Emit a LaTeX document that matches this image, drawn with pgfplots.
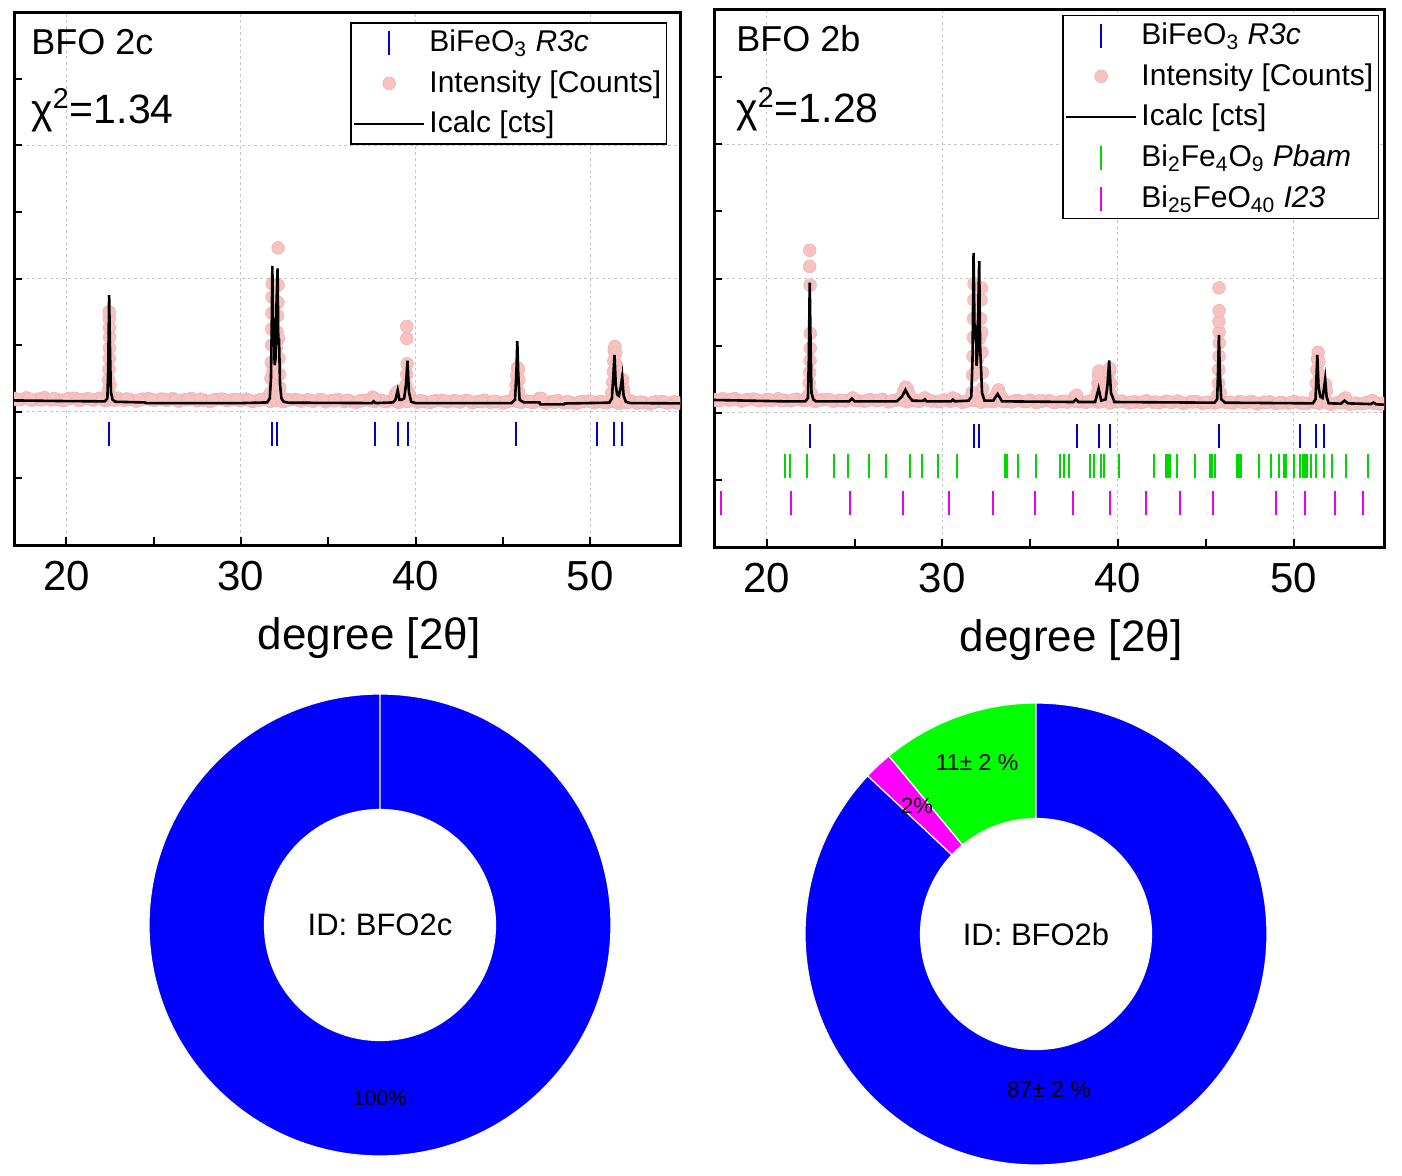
\documentclass[border=0pt]{standalone}
\usepackage{fontspec}
\setmainfont{Liberation Sans}
\usepackage{pgfplots}
\pgfplotsset{compat=1.18}
\usetikzlibrary{calc}
\definecolor{obsfill}{RGB}{247,194,194}
\definecolor{obsdraw}{RGB}{243,180,180}
\definecolor{tblue}{RGB}{0,0,215}
\definecolor{tgreen}{RGB}{0,215,0}
\definecolor{tmag}{RGB}{235,0,235}
\definecolor{pblue}{RGB}{0,0,255}
\definecolor{pgreen}{RGB}{0,255,0}
\definecolor{pmag}{RGB}{255,0,255}
\pgfplotsset{
 xrd/.style={scale only axis, anchor=south west,
  xmin=17, xmax=55.15, ymin=0, ymax=4,
  xtick={20,30,40,50}, minor xtick={25,35,45},
  ytick={1,2,3}, minor ytick={0.5,1.5,2.5,3.5}, yticklabel=\empty,
  tick pos=left, tick align=inside, major tick length=4pt, minor tick length=4pt,
  tick style={black, line width=1pt},
  axis line style={line width=1.5pt},
  clip marker paths=true,
  grid=major, major grid style={gray!45, line width=0.5pt, dash pattern=on 1.5pt off 1.5pt},
  /pgf/number format/assume math mode=true,
  xticklabel style={font=\fontsize{21}{24}\selectfont, yshift=-4.5pt},
  xlabel={degree [2θ]}, xlabel style={font=\fontsize{22}{26}\selectfont, xshift=11pt, yshift=-6.5pt},
  legend cell align=left,
  legend style={at={(1,1)}, anchor=north east, draw=black, line width=0.75pt,
   inner xsep=1pt, inner ysep=2pt, font=\fontsize{15}{18}\selectfont,
   nodes={inner sep=1.5pt, text depth=0.2em}, row sep=4.5pt, /tikz/column sep=0.5pt},
 },
 ticks/.style={only marks, mark=|, mark size=6pt, mark options={line width=1pt},
  legend image code/.code={\draw[##1, mark repeat=2, mark phase=2] plot[only marks] coordinates {(0pt,0pt)(17.5pt,0pt)(35pt,0pt)};}},
 obs/.style={only marks, mark=*, mark size=3.2pt, color=obsdraw,
  mark options={draw=obsdraw, fill=obsfill, line width=0.3pt},
  legend image code/.code={\draw[##1, mark repeat=2, mark phase=2] plot[only marks] coordinates {(0pt,0pt)(17.5pt,0pt)(35pt,0pt)};}},
 calc/.style={black, line width=1.3pt, no marks,
  legend image code/.code={\draw[##1] (0pt,0pt) -- (35pt,0pt);}},
}
\newcommand{\Ro}{115.5pt}
\newcommand{\Ri}{57.75pt}
\newcommand{\donutseg}[3]{%
 \filldraw[fill=#1, draw=white, line width=0.6pt]
  ($(axis cs:0,0)+(#2:\Ro)$) arc[start angle=#2, end angle=#3, radius=\Ro]
  -- ($(axis cs:0,0)+(#3:\Ri)$) arc[start angle=#3, end angle=#2, radius=\Ri] -- cycle;}
\begin{document}
\begin{tikzpicture}
\useasboundingbox (0,0) rectangle (701pt,587.5pt);
% ---------------- left XRD ----------------
\begin{axis}[xrd, at={(7pt,315pt)}, width=333pt, height=266.5pt,
 legend style={xshift=-6.5pt, yshift=-5pt}]
\addplot[ticks, tblue] coordinates {(22.44,0.835)(31.76,0.835)(32.07,0.835)(37.66,0.835)(38.98,0.835)(39.55,0.835)(45.75,0.835)(50.37,0.835)(51.35,0.835)(51.80,0.835)};
\addlegendentry{BiFeO\textsubscript{3} \textit{R3c}}
\addplot[obs] coordinates {
(17.00,1.101)(17.35,1.091)(17.70,1.104)(18.05,1.086)(18.40,1.096)(18.75,1.105)(19.10,1.088)(19.45,1.093)(19.80,1.083)(20.15,1.098)
(20.50,1.101)(20.85,1.089)(21.20,1.098)(21.55,1.088)(21.90,1.101)(22.25,1.083)(22.60,1.093)(22.95,1.102)(23.30,1.085)(23.65,1.090)
(24.00,1.080)(24.35,1.095)(24.70,1.098)(25.05,1.086)(25.40,1.095)(25.75,1.085)(26.10,1.098)(26.45,1.080)(26.80,1.090)(27.15,1.099)
(27.50,1.082)(27.85,1.087)(28.20,1.077)(28.55,1.092)(28.90,1.095)(29.25,1.083)(29.60,1.092)(29.95,1.082)(30.30,1.095)(30.65,1.077)
(31.00,1.087)(31.35,1.096)(31.70,1.079)(32.05,1.085)(32.40,1.075)(32.75,1.089)(33.10,1.092)(33.45,1.080)(33.80,1.089)(34.15,1.079)
(34.50,1.092)(34.85,1.074)(35.20,1.084)(35.55,1.093)(35.90,1.076)(36.25,1.081)(36.60,1.071)(36.95,1.086)(37.30,1.089)(37.65,1.077)
(38.00,1.086)(38.35,1.076)(38.70,1.089)(39.05,1.071)(39.40,1.081)(39.75,1.090)(40.10,1.073)(40.45,1.078)(40.80,1.068)(41.15,1.083)
(41.50,1.086)(41.85,1.074)(42.20,1.083)(42.55,1.073)(42.90,1.086)(43.25,1.068)(43.60,1.078)(43.95,1.087)(44.30,1.070)(44.65,1.075)
(45.00,1.065)(45.35,1.080)(45.70,1.083)(46.05,1.071)(46.40,1.080)(46.75,1.070)(47.10,1.083)(47.45,1.065)(47.80,1.075)(48.15,1.084)
(48.50,1.067)(48.85,1.072)(49.20,1.062)(49.55,1.077)(49.90,1.080)(50.25,1.068)(50.60,1.077)(50.95,1.067)(51.30,1.080)(51.65,1.062)
(52.00,1.072)(52.35,1.081)(52.70,1.064)(53.05,1.069)(53.40,1.059)(53.75,1.074)(54.10,1.077)(54.45,1.065)(54.80,1.074)(55.15,1.064)
(17.18,1.090)(17.88,1.096)(18.58,1.088)(19.28,1.099)(19.98,1.091)(20.68,1.086)(21.38,1.094)(22.08,1.090)(22.78,1.087)(23.48,1.096)
(24.18,1.088)(24.88,1.091)(25.58,1.094)(26.28,1.087)(26.98,1.092)(27.68,1.095)(28.38,1.085)(29.08,1.089)(29.78,1.091)(30.48,1.086)
(31.18,1.090)(32.58,1.083)(33.28,1.087)(33.98,1.084)(34.68,1.088)(35.38,1.082)(36.08,1.087)(36.78,1.080)(37.48,1.084)(38.18,1.080)
(38.88,1.082)(39.58,1.079)(40.28,1.083)(40.98,1.077)(41.68,1.080)(42.38,1.078)(43.08,1.081)(43.78,1.075)(44.48,1.079)(45.18,1.074)
(45.88,1.077)(46.58,1.075)(47.28,1.078)(47.98,1.072)(48.68,1.076)(49.38,1.071)(50.08,1.074)(50.78,1.072)(51.48,1.075)(52.18,1.070)
(52.88,1.073)(53.58,1.068)(54.28,1.072)(54.98,1.069)
(22.36,1.12)(22.40,1.16)(22.42,1.24)(22.44,1.32)(22.46,1.40)(22.47,1.48)(22.48,1.56)(22.47,1.63)(22.46,1.70)(22.45,1.75)(22.50,1.20)(22.52,1.12)
(31.70,1.14)(31.72,1.25)(31.74,1.37)(31.76,1.50)(31.77,1.62)(31.78,1.74)(31.79,1.86)(31.80,1.96)(31.84,1.30)(31.90,1.22)(31.97,1.35)
(32.02,1.48)(32.06,1.60)(32.10,1.72)(32.12,1.82)(32.13,1.95)(32.13,2.23)(32.16,1.55)(32.18,1.40)(32.20,1.28)(32.22,1.18)(32.26,1.12)
(37.55,1.11)(37.65,1.10)(38.85,1.13)(38.95,1.15)
(39.40,1.12)(39.45,1.20)(39.50,1.28)(39.52,1.36)(39.50,1.55)(39.50,1.64)(39.58,1.15)
(45.72,1.13)(45.76,1.20)(45.80,1.27)(45.84,1.33)(45.90,1.32)(45.92,1.24)(45.90,1.15)
(47.10,1.10)(47.20,1.10)
(51.25,1.14)(51.30,1.22)(51.33,1.30)(51.36,1.38)(51.38,1.46)(51.42,1.49)(51.47,1.44)(51.50,1.35)(51.52,1.26)(51.55,1.18)
(51.78,1.15)(51.82,1.22)(51.86,1.24)(51.90,1.17)(51.95,1.12)
};
\addlegendentry{Intensity [Counts]}
\addplot[calc] coordinates {
(17.0,1.085)(20.0,1.080)(22.2,1.078)(22.35,1.10)(22.40,1.35)(22.45,1.876)(22.50,1.45)(22.55,1.15)(22.65,1.09)(22.8,1.075)
(24.5,1.070)(24.55,1.065)(30.0,1.065)(31.5,1.070)(31.65,1.10)(31.72,1.25)(31.76,1.6)(31.80,2.094)(31.84,1.49)(31.88,1.70)(31.93,1.35)
(31.98,1.40)(32.04,1.82)(32.10,2.076)(32.14,1.50)(32.18,1.55)(32.24,1.20)(32.32,1.10)(32.45,1.075)(32.7,1.068)
(37.5,1.065)(37.6,1.078)(37.7,1.065)(38.7,1.070)(38.85,1.09)(38.98,1.163)(39.08,1.09)(39.2,1.09)(39.35,1.10)(39.45,1.20)(39.54,1.383)
(39.62,1.15)(39.75,1.075)(40.0,1.065)(45.5,1.065)(45.7,1.09)(45.78,1.30)(45.83,1.53)(45.88,1.30)(45.96,1.09)(46.2,1.070)
(47.1,1.070)(47.15,1.055)(48.5,1.055)(48.55,1.062)(51.1,1.068)(51.25,1.10)(51.32,1.25)(51.40,1.426)(51.47,1.20)(51.55,1.13)
(51.65,1.12)(51.75,1.18)(51.84,1.263)(51.92,1.12)(52.05,1.075)(52.3,1.065)(55.15,1.063)
};
\addlegendentry{Icalc [cts]}
\node[anchor=base west, inner sep=0, font=\fontsize{18}{20}\selectfont] at (axis description cs:0.0255,0.921) {BFO 2c};
\node[anchor=base west, inner sep=0, font=\fontsize{20.5}{24}\selectfont] at (axis description cs:0.0255,0.790) {χ\textsuperscript{2}=1.34};
\end{axis}
% ---------------- right XRD ----------------
\begin{axis}[xrd, at={(357pt,314pt)}, width=335pt, height=268.5pt,
 legend style={xshift=-2.5pt, yshift=-2.5pt}]
\addplot[ticks, tblue] coordinates {(22.46,0.83)(31.78,0.83)(32.08,0.83)(37.69,0.83)(38.91,0.83)(39.52,0.83)(45.74,0.83)(50.38,0.83)(51.27,0.83)(51.73,0.83)};
\addlegendentry{BiFeO\textsubscript{3} \textit{R3c}}
\addplot[obs] coordinates {
(17.15,1.092)(17.50,1.104)(17.85,1.095)(18.20,1.106)(18.55,1.087)(18.90,1.099)(19.25,1.102)(19.60,1.088)(19.95,1.096)(20.30,1.091)
(20.65,1.104)(21.00,1.093)(21.35,1.089)(21.70,1.101)(22.05,1.092)(22.40,1.103)(22.75,1.084)(23.10,1.096)(23.45,1.099)(23.80,1.085)
(24.15,1.093)(24.50,1.088)(24.85,1.101)(25.20,1.090)(25.55,1.086)(25.90,1.098)(26.25,1.089)(26.60,1.100)(26.95,1.081)(27.30,1.093)
(27.65,1.096)(28.00,1.082)(28.35,1.090)(28.70,1.085)(29.05,1.098)(29.40,1.087)(29.75,1.083)(30.10,1.095)(30.45,1.086)(30.80,1.097)
(31.15,1.078)(31.50,1.090)(31.85,1.093)(32.20,1.079)(32.55,1.087)(32.90,1.082)(33.25,1.095)(33.60,1.084)(33.95,1.080)(34.30,1.092)
(34.65,1.083)(35.00,1.094)(35.35,1.075)(35.70,1.087)(36.05,1.090)(36.40,1.076)(36.75,1.084)(37.10,1.079)(37.45,1.092)(37.80,1.081)
(38.15,1.077)(38.50,1.089)(38.85,1.080)(39.20,1.091)(39.55,1.072)(39.90,1.084)(40.25,1.087)(40.60,1.073)(40.95,1.081)(41.30,1.076)
(41.65,1.089)(42.00,1.078)(42.35,1.074)(42.70,1.086)(43.05,1.077)(43.40,1.088)(43.75,1.069)(44.10,1.081)(44.45,1.084)(44.80,1.070)
(45.15,1.078)(45.50,1.073)(45.85,1.086)(46.20,1.075)(46.55,1.071)(46.90,1.083)(47.25,1.074)(47.60,1.085)(47.95,1.066)(48.30,1.078)
(48.65,1.081)(49.00,1.067)(49.35,1.075)(49.70,1.070)(50.05,1.083)(50.40,1.072)(50.75,1.068)(51.10,1.080)(51.45,1.071)(51.80,1.082)
(52.15,1.063)(52.50,1.075)(52.85,1.078)(53.20,1.064)(53.55,1.072)(53.90,1.067)(54.25,1.080)(54.60,1.069)(54.95,1.065)
(17.00,1.098)(17.33,1.090)(18.03,1.097)(18.73,1.092)(19.43,1.095)(20.13,1.099)(20.83,1.089)(21.53,1.096)(22.23,1.093)(22.93,1.091)
(23.63,1.094)(24.33,1.090)(25.03,1.093)(25.73,1.091)(26.43,1.094)(27.13,1.088)(27.83,1.092)(28.53,1.089)(29.23,1.093)(29.93,1.087)
(30.63,1.091)(31.33,1.086)(32.73,1.090)(33.43,1.086)(34.13,1.088)(34.83,1.085)(35.53,1.089)(36.23,1.083)(36.93,1.086)(37.63,1.084)
(38.33,1.085)(39.03,1.082)(40.08,1.083)(40.78,1.079)(41.48,1.082)(42.18,1.080)(42.88,1.082)(43.58,1.078)(44.28,1.080)(44.98,1.076)
(45.68,1.080)(46.38,1.077)(47.08,1.079)(47.78,1.075)(48.48,1.078)(49.18,1.074)(49.88,1.076)(50.58,1.073)(51.28,1.076)(51.98,1.072)
(52.68,1.074)(53.38,1.070)(54.08,1.073)(54.78,1.071)(55.13,1.068)
(22.38,1.13)(22.42,1.22)(22.45,1.30)(22.47,1.39)(22.48,1.48)(22.48,1.59)(22.47,1.95)(22.45,2.09)(22.45,2.21)(22.52,1.15)
(24.90,1.11)(27.70,1.12)(27.80,1.16)(27.90,1.19)(28.00,1.18)(28.10,1.14)(29.00,1.11)(30.60,1.11)
(31.70,1.15)(31.73,1.28)(31.75,1.42)(31.77,1.56)(31.78,1.70)(31.80,1.84)(31.81,1.96)(31.90,1.30)(32.00,1.40)(32.10,1.55)
(32.18,1.70)(32.20,1.84)(32.22,1.93)(32.24,1.60)(32.26,1.45)(32.28,1.30)(32.30,1.18)
(33.10,1.14)(33.20,1.17)(33.30,1.13)(37.55,1.12)(37.65,1.13)
(38.82,1.15)(38.86,1.22)(38.90,1.28)(38.92,1.31)(38.96,1.20)
(39.42,1.15)(39.46,1.22)(39.50,1.30)(39.54,1.33)(39.58,1.22)(39.62,1.13)
(45.68,1.13)(45.72,1.22)(45.74,1.32)(45.76,1.42)(45.77,1.52)(45.76,1.60)(45.75,1.68)(45.76,1.76)(45.75,1.93)(45.82,1.15)
(51.25,1.13)(51.30,1.22)(51.33,1.32)(51.36,1.40)(51.40,1.45)(51.44,1.38)(51.48,1.28)(51.52,1.18)
(51.78,1.15)(51.82,1.21)(51.86,1.16)(52.85,1.10)(52.95,1.11)(54.50,1.09)
};
\addlegendentry{Intensity [Counts]}
\addplot[calc] coordinates {
(17.0,1.095)(19.0,1.090)(21.0,1.085)(22.2,1.085)(22.35,1.11)(22.40,1.40)(22.45,1.97)(22.50,1.50)(22.55,1.15)(22.65,1.10)(22.8,1.085)
(24.7,1.085)(24.85,1.105)(25.0,1.085)(27.4,1.085)(27.7,1.12)(27.9,1.17)(28.1,1.12)(28.3,1.09)(28.9,1.088)(29.0,1.10)(29.1,1.085)
(30.5,1.085)(30.6,1.098)(30.7,1.085)(31.5,1.090)(31.65,1.12)(31.72,1.40)(31.78,2.19)(31.84,1.55)(31.90,1.65)(31.95,1.35)(32.0,1.45)
(32.05,1.80)(32.10,2.13)(32.15,1.50)(32.20,1.35)(32.26,1.15)(32.4,1.09)(32.9,1.09)(33.15,1.14)(33.4,1.085)(37.45,1.080)(37.6,1.10)
(37.75,1.080)(38.7,1.080)(38.9,1.18)(39.05,1.09)(39.3,1.10)(39.4,1.20)(39.5,1.39)(39.6,1.15)(39.8,1.080)(45.5,1.075)(45.65,1.10)
(45.70,1.30)(45.75,1.58)(45.80,1.30)(45.88,1.10)(46.1,1.075)(51.1,1.070)(51.25,1.10)(51.30,1.25)(51.35,1.43)(51.42,1.20)(51.52,1.12)
(51.65,1.11)(51.75,1.20)(51.80,1.25)(51.88,1.12)(52.0,1.070)(52.7,1.068)(52.9,1.09)(53.1,1.070)(54.4,1.065)(54.55,1.075)(54.7,1.063)(55.15,1.060)
};
\addlegendentry{Icalc [cts]}
\addplot[ticks, tgreen] coordinates {(21.02,0.60)(21.32,0.60)(22.28,0.60)(23.86,0.60)(24.64,0.60)(25.81,0.60)(26.80,0.60)(28.15,0.60)(28.86,0.60)(29.77,0.60)
(30.84,0.60)(33.58,0.60)(33.71,0.60)(34.31,0.60)(35.33,0.60)(36.70,0.60)(36.93,0.60)(37.21,0.60)(38.40,0.60)(38.65,0.60)(39.04,0.60)(39.21,0.60)
(40.05,0.60)(42.06,0.60)(42.72,0.60)(42.84,0.60)(42.94,0.60)(43.35,0.60)(44.37,0.60)(45.25,0.60)(45.38,0.60)(45.51,0.60)(46.78,0.60)(46.85,0.60)
(46.95,0.60)(47.03,0.60)(48.05,0.60)(48.73,0.60)(49.16,0.60)(49.44,0.60)(49.59,0.60)(50.00,0.60)(50.38,0.60)(50.51,0.60)(50.63,0.60)(50.79,0.60)
(51.02,0.60)(51.27,0.60)(51.73,0.60)(52.16,0.60)(52.97,0.60)(54.26,0.60)};
\addlegendentry{Bi\textsubscript{2}Fe\textsubscript{4}O\textsubscript{9} \textit{Pbam}}
\addplot[ticks, tmag] coordinates {(17.39,0.33)(21.40,0.33)(24.72,0.33)(27.74,0.33)(30.38,0.33)(32.89,0.33)(35.28,0.33)(37.46,0.33)(39.54,0.33)(41.57,0.33)
(43.53,0.33)(45.43,0.33)(48.98,0.33)(50.66,0.33)(52.36,0.33)(53.96,0.33)};
\addlegendentry{Bi\textsubscript{25}FeO\textsubscript{40} \textit{I23}}
\node[anchor=base west, inner sep=0, font=\fontsize{18}{20}\selectfont] at (axis description cs:0.0328,0.922) {BFO 2b};
\node[anchor=base west, inner sep=0, font=\fontsize{20.5}{24}\selectfont] at (axis description cs:0.0328,0.791) {χ\textsuperscript{2}=1.28};
\end{axis}
% ---------------- left donut ----------------
\begin{axis}[at={(190pt,125pt)}, anchor=center, scale only axis, width=231pt, height=231pt,
 xmin=-1, xmax=1, ymin=-1, ymax=1, hide axis, clip=false]
% BiFeO3 100 %
\donutseg{pblue}{90}{450}
\node[font=\fontsize{15.5}{18}\selectfont] at (axis cs:0,0) {ID: BFO2c};
\node[font=\fontsize{10.5}{12}\selectfont] at ($(axis cs:0,0)+(0pt,-86.5pt)$) {100\%};
\end{axis}
% ---------------- right donut ----------------
\begin{axis}[at={(518pt,120.5pt)}, anchor=center, scale only axis, width=231pt, height=231pt,
 xmin=-1, xmax=1, ymin=-1, ymax=1, hide axis, clip=false]
% Bi2Fe4O9 11 %, Bi25FeO40 2 %, BiFeO3 87 %
\donutseg{pgreen}{90}{129.6}
\donutseg{pmag}{129.6}{136.8}
\donutseg{pblue}{136.8}{450}
\node[font=\fontsize{15.5}{18}\selectfont] at (axis cs:0,0) {ID: BFO2b};
\node[font=\fontsize{11.5}{13}\selectfont] at ($(axis cs:0,0)+(6.5pt,-78pt)$) {87± 2 \%};
\node[font=\fontsize{11.5}{13}\selectfont] at ($(axis cs:0,0)+(-29.5pt,85.5pt)$) {11± 2 \%};
\node[font=\fontsize{11}{13}\selectfont] at ($(axis cs:0,0)+(-59.5pt,64pt)$) {2\%};
\end{axis}
\end{tikzpicture}
\end{document}
